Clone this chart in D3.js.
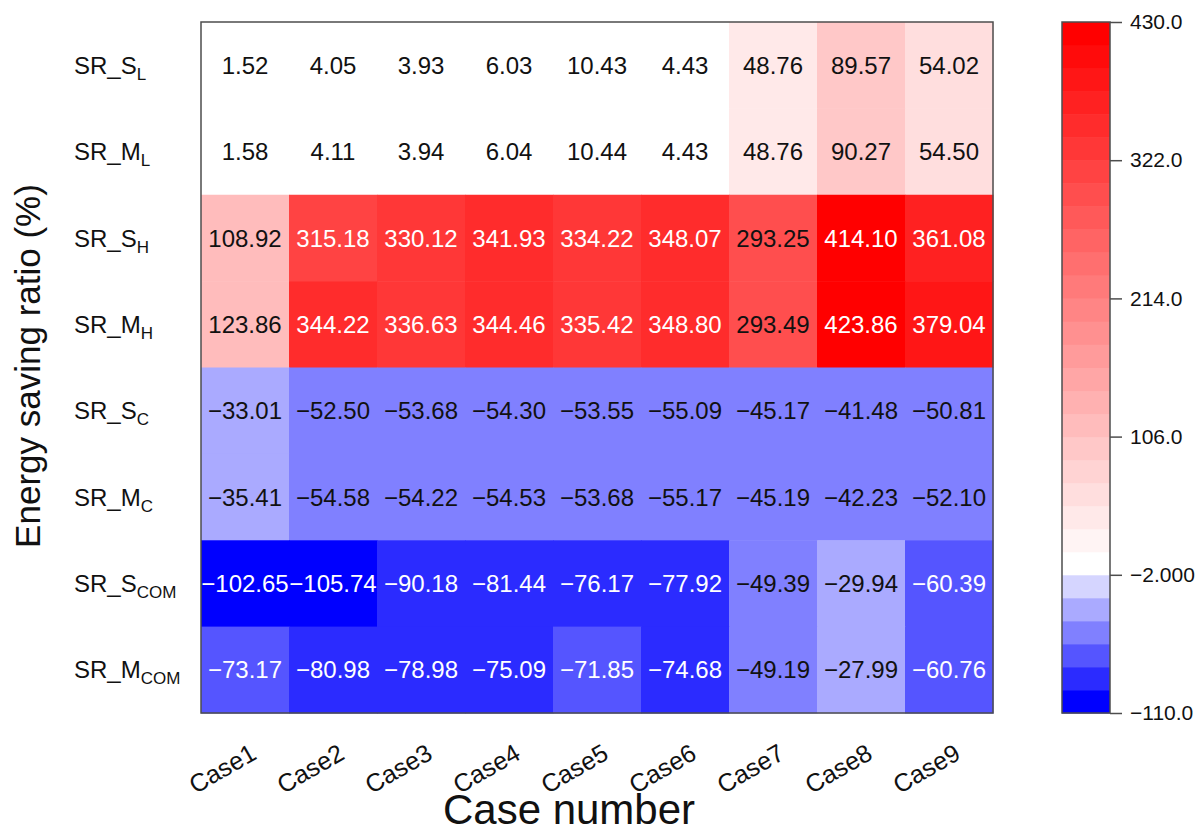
<!DOCTYPE html>
<html>
<head>
<meta charset="utf-8">
<script src="https://cdn.jsdelivr.net/npm/d3@7"></script>
<style>
  html, body { margin: 0; padding: 0; background: #fff; }
  svg { display: block; font-family: "Liberation Sans", Arial, sans-serif; }
</style>
</head>
<body>
<svg id="chart" width="1201" height="834"></svg>
<script>
// Case columns
const cases = ["Case1", "Case2", "Case3", "Case4", "Case5", "Case6", "Case7", "Case8", "Case9"];

// Row labels: base text and subscript
const rowBase = ["SR_S", "SR_M", "SR_S", "SR_M", "SR_S", "SR_M", "SR_S", "SR_M"];
const rowSub  = ["L", "L", "H", "H", "C", "C", "COM", "COM"];

// Energy saving ratio (%) per row, Case1..Case9
const srSL   = [1.52, 4.05, 3.93, 6.03, 10.43, 4.43, 48.76, 89.57, 54.02];
const srML   = [1.58, 4.11, 3.94, 6.04, 10.44, 4.43, 48.76, 90.27, 54.50];
const srSH   = [108.92, 315.18, 330.12, 341.93, 334.22, 348.07, 293.25, 414.10, 361.08];
const srMH   = [123.86, 344.22, 336.63, 344.46, 335.42, 348.80, 293.49, 423.86, 379.04];
const srSC   = [-33.01, -52.50, -53.68, -54.30, -53.55, -55.09, -45.17, -41.48, -50.81];
const srMC   = [-35.41, -54.58, -54.22, -54.53, -53.68, -55.17, -45.19, -42.23, -52.10];
const srSCOM = [-102.65, -105.74, -90.18, -81.44, -76.17, -77.92, -49.39, -29.94, -60.39];
const srMCOM = [-73.17, -80.98, -78.98, -75.09, -71.85, -74.68, -49.19, -27.99, -60.76];
const rowValues = [srSL, srML, srSH, srMH, srSC, srMC, srSCOM, srMCOM];

// Colour bar ticks and band layout
const barTicks = [430.0, 322.0, 214.0, 106.0, -2.0, -110.0];
const barTickLabels = ["430.0", "322.0", "214.0", "106.0", "\u22122.000", "\u2212110.0"];
const barMin = -110, barMax = 430, bandStep = 18, pivot = -2;

const svg = d3.select("#chart");

const heat = { left: 201, right: 993, top: 22, bottom: 713 };
const bar = { left: 1062, right: 1110, top: 22, bottom: 713 };

// Banded diverging palette: blue -> white below the pivot, white -> red above
const breaks = d3.range(barMin, barMax + bandStep / 2, bandStep);
const nBlue = Math.round((pivot - barMin) / bandStep);
const nRed = breaks.length - 1 - nBlue;
const bandColors = d3.range(breaks.length - 1).map(i =>
  i < nBlue
    ? d3.interpolateRgb("#0000ff", "#ffffff")(i / nBlue)
    : d3.interpolateRgb("#ffffff", "#ff0000")((i - nBlue) / (nRed - 1))
);
const color = d3.scaleThreshold()
  .domain(breaks.slice(1, -1))
  .range(bandColors);

function luminance(c) {
  const rgb = d3.rgb(c);
  const f = v => { v /= 255; return v <= 0.03928 ? v / 12.92 : Math.pow((v + 0.055) / 1.055, 2.4); };
  return 0.2126 * f(rgb.r) + 0.7152 * f(rgb.g) + 0.0722 * f(rgb.b);
}

const x = d3.scaleBand().domain(cases).range([heat.left, heat.right]).padding(0);
const y = d3.scaleBand().domain(d3.range(rowBase.length)).range([heat.top, heat.bottom]).padding(0);

const cells = [];
rowValues.forEach((vals, r) => vals.forEach((v, c) => cells.push({ r, c, v })));

// Heatmap cells
svg.append("g").selectAll("rect")
  .data(cells).join("rect")
  .attr("x", d => x(cases[d.c]))
  .attr("y", d => y(d.r))
  .attr("width", x.bandwidth() + 0.5)
  .attr("height", y.bandwidth() + 0.5)
  .attr("fill", d => color(d.v));

// Value labels
svg.append("g").selectAll("text")
  .data(cells).join("text")
  .attr("x", d => x(cases[d.c]) + x.bandwidth() / 2)
  .attr("y", d => y(d.r) + y.bandwidth() / 2)
  .attr("dy", "0.36em")
  .attr("text-anchor", "middle")
  .attr("font-size", 24)
  .attr("fill", d => luminance(color(d.v)) < 0.264 ? "#ffffff" : "#111111")
  .text(d => d3.format(".2f")(d.v).replace("-", "\u2212"));

// Heatmap frame
svg.append("rect")
  .attr("x", heat.left).attr("y", heat.top)
  .attr("width", heat.right - heat.left).attr("height", heat.bottom - heat.top)
  .attr("fill", "none").attr("stroke", "#4d4d4d").attr("stroke-width", 1.5);

// Row labels with subscripts
const rowLab = svg.append("g").selectAll("text")
  .data(rowBase).join("text")
  .attr("x", 74)
  .attr("y", (d, i) => y(i) + y.bandwidth() / 2)
  .attr("dy", "0.36em")
  .attr("font-size", 24)
  .attr("fill", "#111");
rowLab.append("tspan").text(d => d);
rowLab.append("tspan")
  .attr("font-size", 17)
  .attr("dy", 6)
  .text((d, i) => rowSub[i]);

// Rotated case labels
svg.append("g").selectAll("text")
  .data(cases).join("text")
  .attr("transform", d => `translate(${x(d) + x.bandwidth() / 2 + 13},${heat.bottom + 45}) rotate(-30)`)
  .attr("text-anchor", "end")
  .attr("font-size", 25)
  .attr("fill", "#111")
  .text(d => d);

// Axis titles
svg.append("text")
  .attr("x", 569).attr("y", 824)
  .attr("text-anchor", "middle")
  .attr("font-size", 42)
  .attr("fill", "#111")
  .text("Case number");

svg.append("text")
  .attr("transform", `translate(40,366) rotate(-90)`)
  .attr("text-anchor", "middle")
  .attr("font-size", 35)
  .attr("fill", "#111")
  .text("Energy saving ratio (%)");

// Colour bar
const yBar = d3.scaleLinear().domain([barMin, barMax]).range([bar.bottom, bar.top]);
const bands = d3.range(breaks.length - 1).map(i => ({ lo: breaks[i], hi: breaks[i + 1] }));
svg.append("g").selectAll("rect")
  .data(bands).join("rect")
  .attr("x", bar.left)
  .attr("y", d => yBar(d.hi))
  .attr("width", bar.right - bar.left)
  .attr("height", d => yBar(d.lo) - yBar(d.hi) + 0.5)
  .attr("fill", d => color((d.lo + d.hi) / 2));

svg.append("rect")
  .attr("x", bar.left).attr("y", bar.top)
  .attr("width", bar.right - bar.left).attr("height", bar.bottom - bar.top)
  .attr("fill", "none").attr("stroke", "#4d4d4d").attr("stroke-width", 1.5);

const barAxis = d3.axisRight(yBar)
  .tickValues(barTicks)
  .tickSize(12)
  .tickPadding(8)
  .tickFormat((d, i) => barTickLabels[i]);

const gBar = svg.append("g")
  .attr("transform", `translate(${bar.right},0)`)
  .call(barAxis);
gBar.select(".domain").remove();
gBar.selectAll(".tick line").attr("stroke", "#4d4d4d").attr("stroke-width", 1.5);
gBar.selectAll(".tick text")
  .attr("font-size", 21)
  .attr("font-family", "Liberation Sans, Arial, sans-serif")
  .attr("fill", "#111");
</script>
</body>
</html>
